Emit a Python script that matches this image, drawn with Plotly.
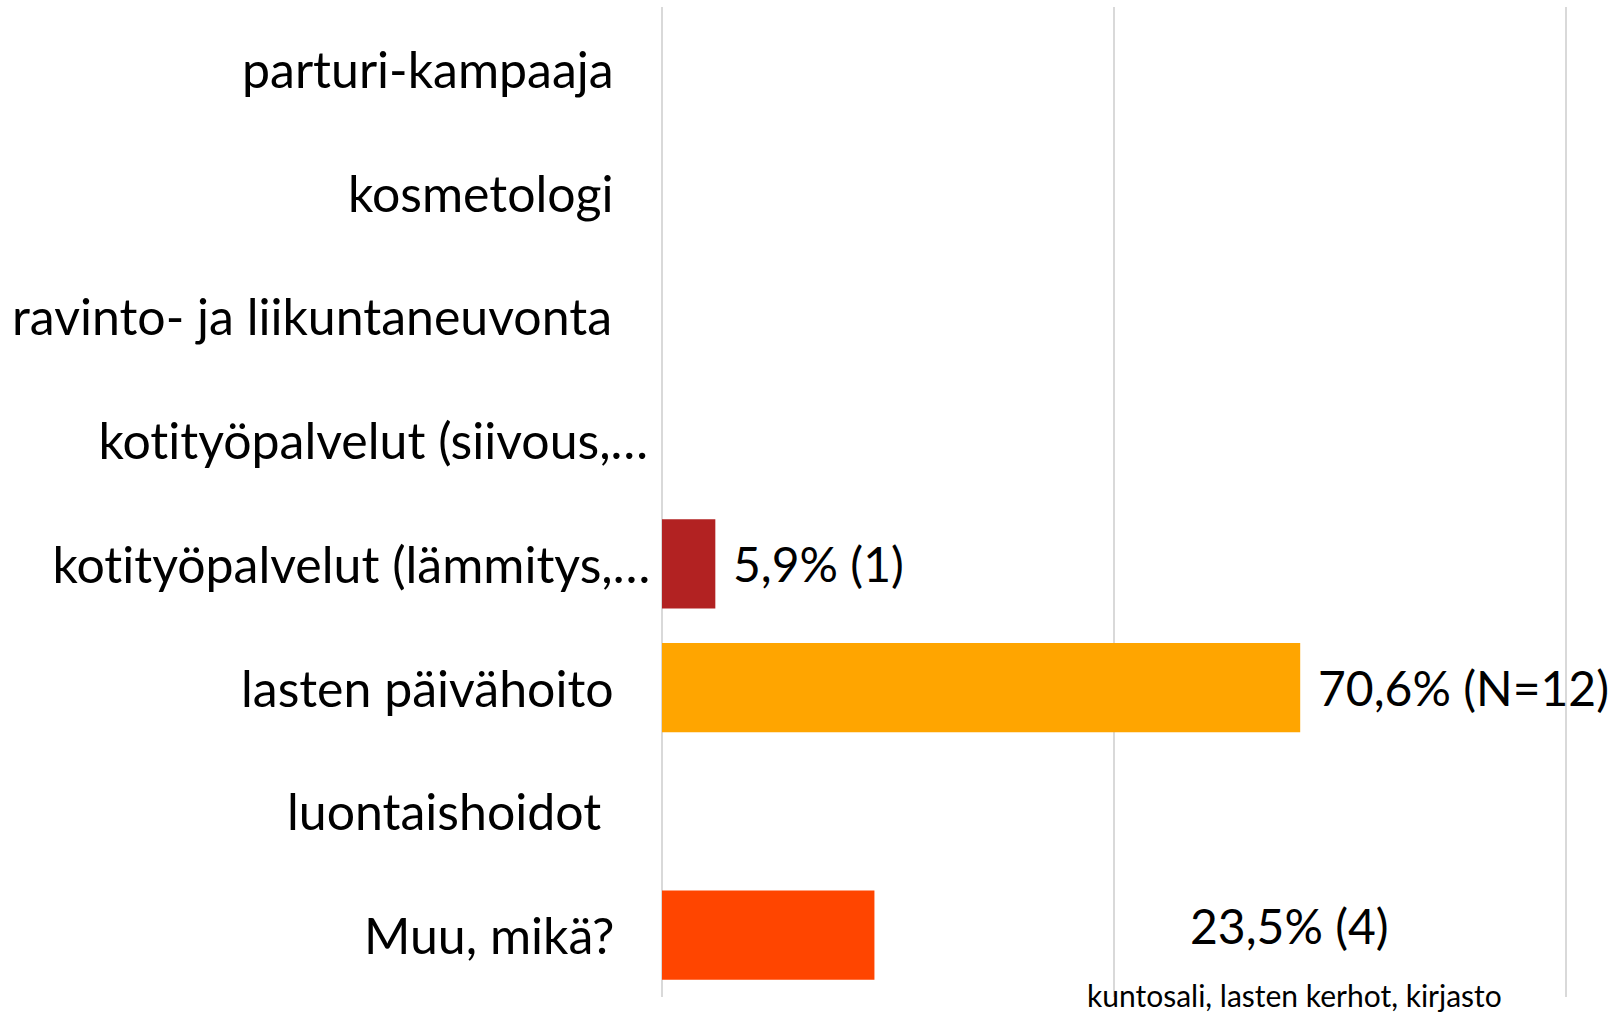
import plotly.graph_objects as go

categories = [
    "parturi-kampaaja",
    "kosmetologi",
    "ravinto- ja liikuntaneuvonta",
    "kotityöpalvelut (siivous,…",
    "kotityöpalvelut (lämmitys,…",
    "lasten päivähoito",
    "luontaishoidot",
    "Muu, mikä?",
]
values = [0, 0, 0, 0, 0.059, 0.706, 0, 0.235]
value_labels = ["", "", "", "", "5,9% (1)", "70,6% (N=12)", "", "23,5% (4)"]
bar_colors = ["#B22222", "#B22222", "#B22222", "#B22222", "#B22222", "#FFA500", "#B22222", "#FF4500"]
other_note = "kuntosali, lasten kerhot, kirjasto"
label_shift = [-46, -46, -48, -11, -9, -46, -59, -46]

FONT = "Lato"

fig = go.Figure(go.Bar(
    y=categories, x=values, orientation="h",
    marker=dict(color=bar_colors, line=dict(width=0)),
    width=0.72, hoverinfo="skip",
))

ann = []
for c, s in zip(categories, label_shift):
    ann.append(dict(x=0, xref="paper", y=c, yref="y", text=c, showarrow=False,
                    xanchor="right", yanchor="middle", xshift=s,
                    font=dict(family=FONT, size=50, color="black")))
for c, v, t in zip(categories, values, value_labels):
    if not t or c == "Muu, mikä?":
        continue
    ann.append(dict(x=v, xref="x", y=c, yref="y", text=t, showarrow=False,
                    xanchor="left", yanchor="middle", xshift=16,
                    font=dict(family=FONT, size=48, color="black")))
# "Muu" label placed off the bar, with the free-text note below
ann.append(dict(x=0.694, xref="x", y="Muu, mikä?", yref="y", text=value_labels[7], showarrow=False,
                xanchor="center", yanchor="middle", yshift=10,
                font=dict(family=FONT, size=48, color="black")))
ann.append(dict(x=0.694, xref="x", y="Muu, mikä?", yref="y", text=other_note, showarrow=False,
                xanchor="center", yanchor="middle", yshift=-60, xshift=5,
                font=dict(family=FONT, size=30, color="black")))

fig.update_layout(
    width=1623, height=1014,
    margin=dict(l=662, r=48, t=7, b=17),
    plot_bgcolor="white", paper_bgcolor="white",
    showlegend=False,
    annotations=ann,
    xaxis=dict(range=[0, 1.01], dtick=0.5, showticklabels=False, showgrid=True,
               gridcolor="#D9D9D9", gridwidth=2, zeroline=True, zerolinecolor="#D9D9D9",
               zerolinewidth=2, showline=False, ticks=""),
    yaxis=dict(autorange="reversed", showticklabels=False, showgrid=False, zeroline=False,
               showline=False, ticks=""),
)
post = ("document.body.style.margin='0';"
        "var s=document.createElement('style');"
        "s.textContent='text{font-variant-ligatures:none;font-feature-settings:\"liga\" 0;}';"
        "document.head.appendChild(s);")
fig.write_html("out.html", post_script=post, config={"displayModeBar": False})
